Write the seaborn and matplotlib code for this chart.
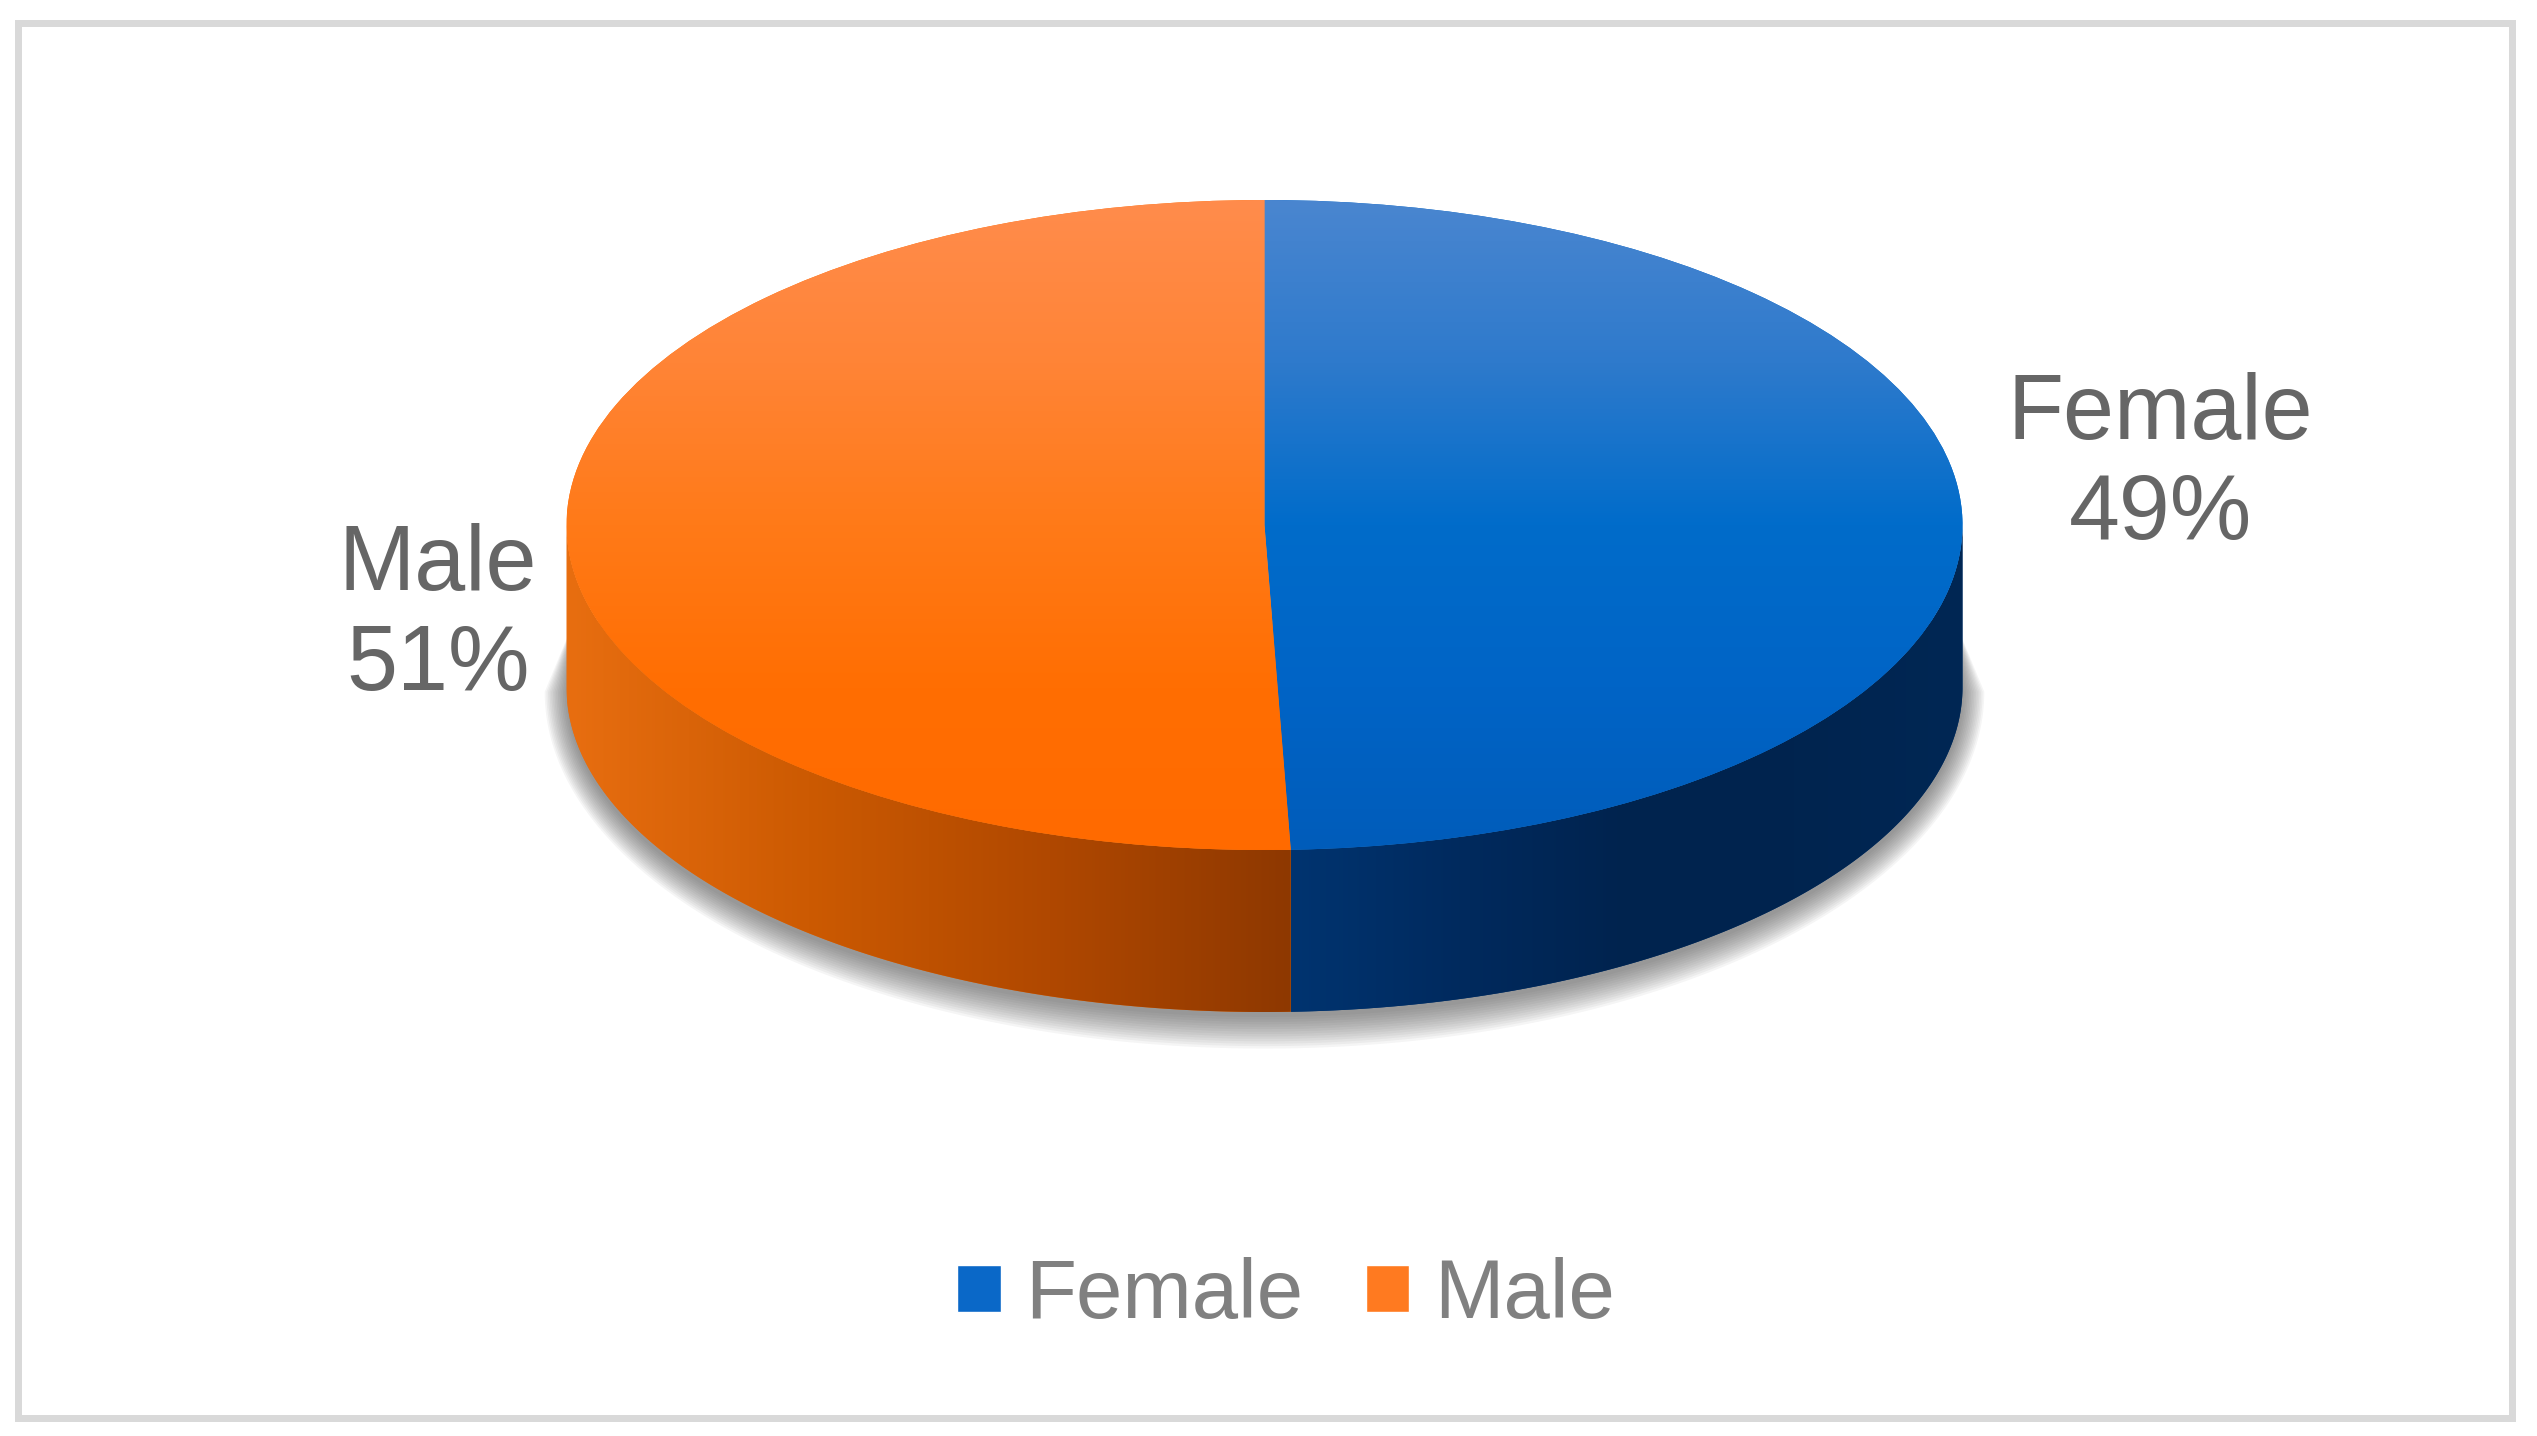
import numpy as np
import matplotlib
matplotlib.use("Agg")
import matplotlib.pyplot as plt
import seaborn as sns
from matplotlib.colors import LinearSegmentedColormap
from matplotlib.patches import Polygon, Rectangle, Patch

# data
categories = ["Female", "Male"]
shares = [49.4, 50.6]
top_colors = ["#0066C8", "#FF6E00"]

# gradients (top face: bottom -> top, side: left -> right)
top_grad = [
    ["#005CBA", "#0064C6", "#006CCA", "#2E7ACC", "#4A86D0"],
    ["#FF6A00", "#FF6E02", "#FF7A18", "#FF8436", "#FF8C4C"],
]
side_grad = [
    ["#003470", "#002A5E", "#00234E", "#00244F", "#002754"],
    ["#E86E10", "#CC5A02", "#B04800", "#8E3800"],
]

sns.set_style("white")
plt.rcParams["font.family"] = ["Liberation Sans", "DejaVu Sans"]

W, H = 2537, 1436
fig = plt.figure(figsize=(W / 100, H / 100), dpi=100)
ax = fig.add_axes([0, 0, 1, 1])

# pie geometry (pixels) -> stretch of the unit pie
cx_px, cy_px = 1264.5, 525
rx_px, ry_px = 698, 325
depth = 162 / ry_px
xlim = (-cx_px / rx_px, (W - cx_px) / rx_px)
ylim = (-(H - cy_px) / ry_px, cy_px / ry_px)

wedges, _ = ax.pie(shares, colors=top_colors, startangle=90, counterclock=False,
                   radius=1, center=(0, 0), wedgeprops=dict(linewidth=0))

# top face gradients
for w, grad in zip(wedges, top_grad):
    w.set_zorder(3)
    cmap = LinearSegmentedColormap.from_list("t", grad)
    im = ax.imshow(np.linspace(0, 1, 256).reshape(-1, 1), cmap=cmap, origin="lower",
                   extent=(-1, 1, -1, 1), aspect="auto", zorder=3.1)
    im.set_clip_path(w)

# side walls (front half only)
fr = np.array(shares) / np.sum(shares)
bounds = 90 - 360 * np.concatenate([[0], np.cumsum(fr)])
for i in range(len(shares)):
    a_start, a_end = bounds[i], bounds[i + 1]
    t0, t1 = max(a_end, -180), min(a_start, 0)
    if t1 <= t0:
        continue
    t = np.radians(np.linspace(t0, t1, 300))
    top = np.column_stack([np.cos(t), np.sin(t)])
    bot = np.column_stack([np.cos(t), np.sin(t) - depth])
    poly = Polygon(np.vstack([top, bot[::-1]]), closed=True, facecolor=side_grad[i][0],
                   edgecolor="none", zorder=2)
    ax.add_patch(poly)
    xmin, xmax = np.cos(t).min(), np.cos(t).max()
    cmap = LinearSegmentedColormap.from_list("s", side_grad[i])
    im = ax.imshow(np.linspace(0, 1, 256).reshape(1, -1), cmap=cmap,
                   extent=(xmin, xmax, -1 - depth, 0.1), aspect="auto", zorder=2.1)
    im.set_clip_path(poly)

# soft shadow under the side wall
tt = np.radians(np.linspace(180, 360, 300))
cut = -0.3
for k in range(14):
    ex = 0.0024 * k
    ey = 0.0075 * k
    arc = np.column_stack([np.cos(tt) * (1 + ex), np.sin(tt) * (1 + ey) - depth - 0.015])
    pts = np.vstack([[[-0.99, cut]], arc, [[0.99, cut]]])
    ax.add_patch(Polygon(pts, closed=True, facecolor="#4A4A4A", edgecolor="none",
                         alpha=0.055, zorder=1))

# data labels
label_xy = [(1.283, 0.185), (-1.184, -0.28)]
for cat, val, (lx, ly) in zip(categories, shares, label_xy):
    ax.text(lx, ly, f"{cat}\n{val:.0f}%", ha="center", va="center", fontsize=66,
            color="#666666", linespacing=1.22, zorder=5)

ax.set_xlim(xlim)
ax.set_ylim(ylim)
ax.set_aspect("auto")
ax.axis("off")

# legend
handles = [Patch(facecolor=c, label=cat) for c, cat in zip(["#0A68C8", "#FF7A20"], categories)]
fig.legend(handles=handles, loc="center", bbox_to_anchor=(0.507, 0.0975), ncol=2,
           frameon=False, fontsize=60, labelcolor="#808080", handlelength=0.52,
           handleheight=0.5, handletextpad=0.3, columnspacing=0.75)

# outer border
fig.patches.append(Rectangle((17.5 / W, 1 - 1417.5 / H), (2511.5 - 17.5) / W, (1417.5 - 22.5) / H,
                             transform=fig.transFigure, fill=False, edgecolor="#D9D9D9",
                             linewidth=5.04))

fig.savefig("out.png", dpi=100, facecolor="white")
